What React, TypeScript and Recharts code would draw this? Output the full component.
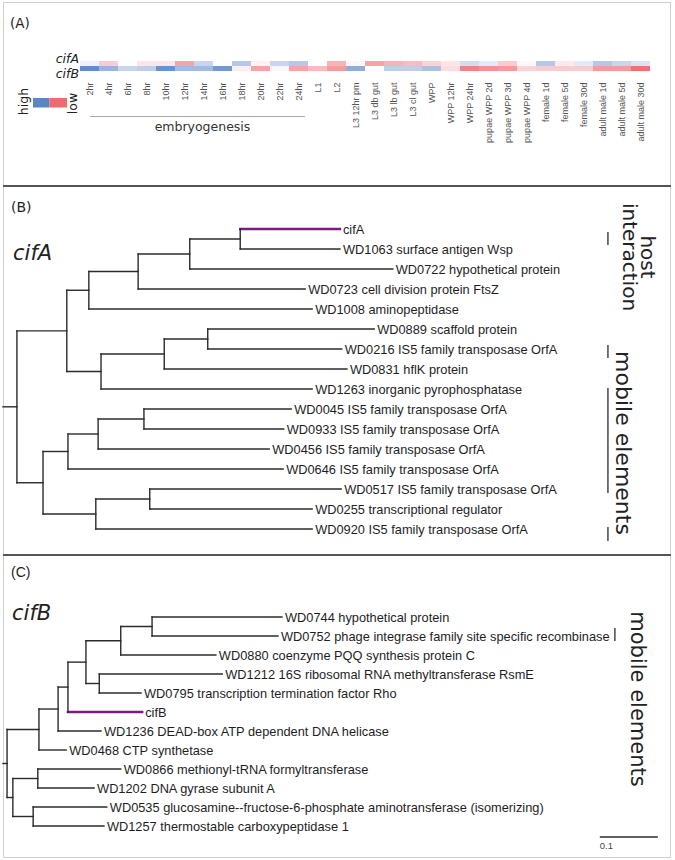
import React from 'react';
import { BarChart, Bar, Cell, XAxis, YAxis, ScatterChart, Scatter, ReferenceLine } from 'recharts';

// ---------- Panel A data ----------
const stages = ['2hr', '4hr', '6hr', '8hr', '10hr', '12hr', '14hr', '16hr', '18hr', '20hr', '22hr', '24hr', 'L1', 'L2', 'L3 12hr pm', 'L3 db gut', 'L3 lb gut', 'L3 cl gut', 'WPP', 'WPP 12hr', 'WPP 24hr', 'pupae WPP 2d', 'pupae WPP 3d', 'pupae WPP 4d', 'female 1d', 'female 5d', 'female 30d', 'adult male 1d', 'adult male 5d', 'adult male 30d'];
// negative = high (blue), positive = low (red)
const cifAExpr = [-0.1, 0.3, 0, 0.15, 0.15, 0.55, -0.3, 0, -0.4, 0.08, -0.3, -0.4, 0, 0.45, 0.05, 0.55, 0.45, 0.4, 0.25, 0.15, -0.25, -0.15, 0.3, 0.05, -0.4, 0.12, -0.15, -0.4, -0.3, -0.2];
const cifBExpr = [-0.85, -0.55, -0.3, -0.35, -0.8, -0.5, -0.5, -0.75, 0.1, 0.55, -0.05, 0.55, 0.4, 0.6, -0.6, 0.02, -0.35, -0.35, -0.45, 0.2, 0.75, 0.65, 0.6, 0.25, 0.3, 0.3, 0.3, 0.6, 0.6, 0.85];

// ---------- Panel B data (cifA tree) ----------
const treeBLeaves = ['cifA', 'WD1063 surface antigen Wsp', 'WD0722 hypothetical protein', 'WD0723 cell division protein FtsZ', 'WD1008 aminopeptidase', 'WD0889 scaffold protein', 'WD0216 IS5 family transposase OrfA', 'WD0831 hflK protein', 'WD1263 inorganic pyrophosphatase', 'WD0045 IS5 family transposase OrfA', 'WD0933 IS5 family transposase OrfA', 'WD0456 IS5 family transposase OrfA', 'WD0646 IS5 family transposase OrfA', 'WD0517 IS5 family transposase OrfA', 'WD0255 transcriptional regulator', 'WD0920 IS5 family transposase OrfA'];
const treeBLeafDepth = [0.581, 0.581, 0.672, 0.521, 0.533, 0.640, 0.584, 0.593, 0.533, 0.497, 0.484, 0.459, 0.483, 0.583, 0.533, 0.533];
const treeBLeafParent = [5, 5, 4, 3, 2, 8, 8, 7, 6, 12, 12, 11, 10, 14, 14, 13];
const treeBNodeDepth = [0.024, 0.110, 0.148, 0.233, 0.322, 0.409, 0.169, 0.278, 0.353, 0.069, 0.112, 0.164, 0.243, 0.160, 0.253];
const treeBNodeParent = [-1, 0, 1, 2, 3, 4, 1, 6, 7, 0, 9, 10, 11, 9, 13];
const treeBBrackets = [[0.15, 0.8], [5.8, 6.45], [7.95, 13.2], [14.9, 15.6]];

// ---------- Panel C data (cifB tree) ----------
const treeCLeaves = ['WD0744 hypothetical protein', 'WD0752 phage integrase family site specific recombinase', 'WD0880 coenzyme PQQ synthesis protein C', 'WD1212 16S ribosomal RNA methyltransferase RsmE', 'WD0795 transcription termination factor Rho', 'cifB', 'WD1236 DEAD-box ATP dependent DNA helicase', 'WD0468 CTP synthetase', 'WD0866 methionyl-tRNA formyltransferase', 'WD1202 DNA gyrase subunit A', 'WD0535 glucosamine--fructose-6-phosphate aminotransferase (isomerizing)', 'WD1257 thermostable carboxypeptidase 1'];
const treeCLeafDepth = [0.481, 0.474, 0.367, 0.378, 0.238, 0.240, 0.169, 0.109, 0.203, 0.157, 0.179, 0.174];
const treeCLeafParent = [6, 6, 5, 7, 7, 3, 2, 1, 9, 9, 10, 10];
const treeCNodeDepth = [0.007, 0.062, 0.095, 0.112, 0.143, 0.203, 0.257, 0.166, 0.017, 0.060, 0.052];
const treeCNodeParent = [-1, 0, 1, 2, 3, 4, 5, 4, 0, 8, 8];
const treeCBrackets = [[0.58, 1.26]];

const scaleBarStart = 1.029;
const scaleBarLength = 0.1;

// ---------- helpers ----------
const SANS = '"DejaVu Sans", Verdana, sans-serif';
const ARIAL = '"Liberation Sans", Arial, sans-serif';
const BRANCH = '#2b2b2b';
const PURPLE = '#7d1c80';

function heat(v: number): string {
  const t = Math.min(1, Math.abs(v));
  const base = v < 0 ? [70, 118, 196] : [236, 88, 94];
  const m = (c: number) => Math.round(255 + (c - 255) * t);
  return `rgb(${m(base[0])},${m(base[1])},${m(base[2])})`;
}

type Seg = { x1: number; y1: number; x2: number; y2: number; hl: boolean };

function buildTree(leaves: string[], leafDepth: number[], leafParent: number[], nodeDepth: number[], nodeParent: number[], highlight: string) {
  const kids: number[][] = nodeDepth.map(() => []);
  leaves.forEach((_, i) => kids[leafParent[i]].push(i));
  const nodeY: number[] = nodeDepth.map(() => 0);
  for (let k = nodeDepth.length - 1; k >= 0; k--) {
    const ys = kids[k];
    nodeY[k] = (Math.min(...ys) + Math.max(...ys)) / 2;
    if (nodeParent[k] >= 0) kids[nodeParent[k]].push(nodeY[k]);
  }
  const segs: Seg[] = [];
  leaves.forEach((name, i) => {
    segs.push({ x1: nodeDepth[leafParent[i]], y1: i, x2: leafDepth[i], y2: i, hl: name === highlight });
  });
  nodeDepth.forEach((d, k) => {
    const px = nodeParent[k] >= 0 ? nodeDepth[nodeParent[k]] : 0;
    segs.push({ x1: px, y1: nodeY[k], x2: d, y2: nodeY[k], hl: false });
    segs.push({ x1: d, y1: Math.min(...kids[k]), x2: d, y2: Math.max(...kids[k]), hl: false });
  });
  const labels = leaves.map((name, i) => ({ x: leafDepth[i], y: i, name }));
  return { segs, labels };
}

const LeafLabel = (p: any) => (
  <text x={p.cx + 3} y={p.cy} dominantBaseline="central" fontSize={12.8} fontFamily={ARIAL} fill="#1e1e1e">
    {p.payload.name}
  </text>
);

const StageTick = (p: any) => {
  const y = p.y + 11.5;
  return (
    <text x={p.x} y={y} transform={`rotate(-90 ${p.x} ${y})`} textAnchor="end" dominantBaseline="central" fontSize={9} fontFamily={ARIAL} fill="#555">
      {p.payload.value}
    </text>
  );
};

function HeatmapPanel() {
  const data = stages.map((s, i) => ({ stage: s, a: 1, b: 1, ea: cifAExpr[i], eb: cifBExpr[i] }));
  return (
    <BarChart width={675} height={186} data={data} margin={{ top: 61, right: 25, bottom: 0, left: 80 }} barCategoryGap={0} barGap={0}>
      <XAxis dataKey="stage" interval={0} tickLine={false} axisLine={false} height={115} tickSize={0} tickMargin={0} tick={<StageTick />} />
      <YAxis hide type="number" domain={[0, 2]} allowDataOverflow />
      <Bar dataKey="b" stackId="s" isAnimationActive={false}>
        {cifBExpr.map((v, i) => <Cell key={i} fill={heat(v)} />)}
      </Bar>
      <Bar dataKey="a" stackId="s" isAnimationActive={false}>
        {cifAExpr.map((v, i) => <Cell key={i} fill={heat(v)} />)}
      </Bar>
      <text x={10} y={28} fontSize={13.5} fontFamily={SANS} fill="#222">(A)</text>
      <text x={79} y={63} textAnchor="end" fontSize={12.5} fontStyle="italic" fontFamily={SANS} fill="#222">cifA</text>
      <text x={79} y={78} textAnchor="end" fontSize={12.5} fontStyle="italic" fontFamily={SANS} fill="#222">cifB</text>
      <rect x={33} y={98} width={16.5} height={9.5} fill="#5a86c8" />
      <rect x={49.5} y={98} width={17.5} height={9.5} fill="#ee6b6f" />
      <text x={23} y={101.5} transform="rotate(-90 23 101.5)" textAnchor="middle" dominantBaseline="central" fontSize={12.5} fontFamily={SANS} fill="#222">high</text>
      <text x={72} y={103.5} transform="rotate(-90 72 103.5)" textAnchor="middle" dominantBaseline="central" fontSize={12.5} fontFamily={SANS} fill="#222">low</text>
      <line x1={90} x2={305} y1={116.5} y2={116.5} stroke="#aaa" strokeWidth={1.2} />
      <text x={202.5} y={131} textAnchor="middle" fontSize={12.5} fontFamily={SANS} fill="#333">embryogenesis</text>
    </BarChart>
  );
}

function TreeB() {
  const { segs, labels } = buildTree(treeBLeaves, treeBLeafDepth, treeBLeafParent, treeBNodeDepth, treeBNodeParent, 'cifA');
  return (
    <ScatterChart width={675} height={368} margin={{ top: 23, right: 5, bottom: 5, left: 3 }}>
      <XAxis type="number" dataKey="x" domain={[0, 1.15]} allowDataOverflow hide />
      <YAxis type="number" dataKey="y" domain={[-1, 16]} allowDataOverflow reversed hide />
      {segs.map((s, i) => (
        <ReferenceLine key={i} segment={[{ x: s.x1, y: s.y1 }, { x: s.x2, y: s.y2 }]} stroke={s.hl ? PURPLE : BRANCH} strokeWidth={s.hl ? 2.4 : 1.4} strokeLinecap="square" ifOverflow="visible" />
      ))}
      {treeBBrackets.map((b, i) => (
        <ReferenceLine key={'b' + i} segment={[{ x: 1.043, y: b[0] }, { x: 1.043, y: b[1] }]} stroke={BRANCH} strokeWidth={1.3} ifOverflow="visible" />
      ))}
      <Scatter data={labels} isAnimationActive={false} shape={LeafLabel} />
      <text x={11} y={26} fontSize={14} fontFamily={SANS} fill="#222">(B)</text>
      <text x={13} y={74} fontSize={21} fontStyle="italic" fontFamily={SANS} fill="#222">cifA</text>
      <text x={648} y={71} transform="rotate(90 648 71)" textAnchor="middle" dominantBaseline="central" fontSize={20} fontFamily={SANS} fill="#222">host</text>
      <text x={630} y={71} transform="rotate(90 630 71)" textAnchor="middle" dominantBaseline="central" fontSize={20} fontFamily={SANS} fill="#222">interaction</text>
      <text x={623} y={257} transform="rotate(90 623 257)" textAnchor="middle" dominantBaseline="central" fontSize={22} fontFamily={SANS} fill="#222">mobile elements</text>
    </ScatterChart>
  );
}

function TreeC() {
  const { segs, labels } = buildTree(treeCLeaves, treeCLeafDepth, treeCLeafParent, treeCNodeDepth, treeCNodeParent, 'cifB');
  const scaleY = 11.58;
  return (
    <ScatterChart width={675} height={306} margin={{ top: 44, right: 5, bottom: 5.5, left: 3 }}>
      <XAxis type="number" dataKey="x" domain={[0, 1.15]} allowDataOverflow hide />
      <YAxis type="number" dataKey="y" domain={[-1, 12.5]} allowDataOverflow reversed hide />
      {segs.map((s, i) => (
        <ReferenceLine key={i} segment={[{ x: s.x1, y: s.y1 }, { x: s.x2, y: s.y2 }]} stroke={s.hl ? PURPLE : BRANCH} strokeWidth={s.hl ? 2.4 : 1.4} strokeLinecap="square" ifOverflow="visible" />
      ))}
      {treeCBrackets.map((b, i) => (
        <ReferenceLine key={'b' + i} segment={[{ x: 1.055, y: b[0] }, { x: 1.055, y: b[1] }]} stroke={BRANCH} strokeWidth={1.3} ifOverflow="visible" />
      ))}
      <ReferenceLine segment={[{ x: scaleBarStart, y: scaleY }, { x: scaleBarStart + scaleBarLength, y: scaleY }]} stroke={BRANCH} strokeWidth={1.3} ifOverflow="visible" />
      <Scatter data={labels} isAnimationActive={false} shape={LeafLabel} />
      <Scatter
        data={[{ x: scaleBarStart, y: scaleY, name: String(scaleBarLength) }]}
        isAnimationActive={false}
        shape={(p: any) => (
          <text x={p.cx} y={p.cy + 12} fontSize={9.5} fontFamily={ARIAL} fill="#444">{p.payload.name}</text>
        )}
      />
      <text x={11} y={23} fontSize={14} fontFamily={ARIAL} fill="#222">(C)</text>
      <text x={12} y={66} fontSize={21} fontStyle="italic" fontFamily={SANS} fill="#222">cifB</text>
      <text x={638} y={145} transform="rotate(90 638 145)" textAnchor="middle" dominantBaseline="central" fontSize={21} fontFamily={SANS} fill="#222">mobile elements</text>
    </ScatterChart>
  );
}

export default function App() {
  return (
    <div style={{ position: 'absolute', left: 0, top: 0, width: 675, height: 860, background: '#fff', overflow: 'hidden' }}>
      <div style={{ position: 'absolute', left: 3, top: 2, width: 666, height: 854, border: '1px solid #d0d0d0' }} />
      <div style={{ position: 'absolute', left: 0, top: 0 }}><HeatmapPanel /></div>
      <div style={{ position: 'absolute', left: 0, top: 186 }}><TreeB /></div>
      <div style={{ position: 'absolute', left: 0, top: 554 }}><TreeC /></div>
      <div style={{ position: 'absolute', left: 3, top: 185, width: 668, height: 2, background: '#555' }} />
      <div style={{ position: 'absolute', left: 3, top: 553.5, width: 668, height: 2, background: '#555' }} />
    </div>
  );
}
